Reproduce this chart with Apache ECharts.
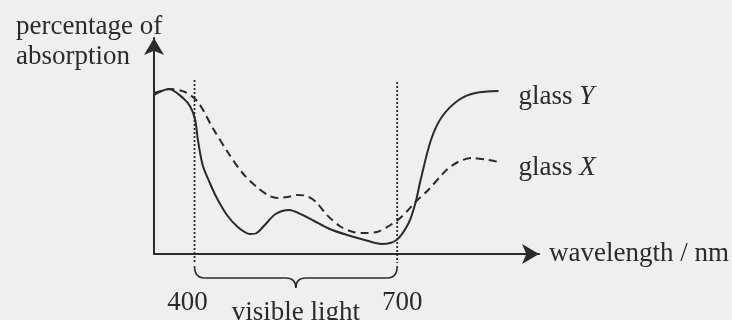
<!DOCTYPE html>
<html>
<head>
<meta charset="utf-8">
<script src="https://cdn.jsdelivr.net/npm/echarts@6/dist/echarts.min.js"></script>
<style>html,body{margin:0;padding:0;background:#efefef}#c{width:732px;height:320px}</style>
</head>
<body>
<div id="c"></div>
<script>
// wavelength (nm) and percentage of absorption
const wavelengthY = [340, 362, 383, 394, 401, 405, 412, 422, 433, 448, 464, 482, 492, 504, 520, 540, 560, 577, 600, 626, 652, 677, 699, 717, 727, 735, 750, 766, 791, 816, 850];
const absorptionY = [79.5, 82.5, 78, 73.5, 67, 57, 44.5, 36, 28, 19.5, 13.5, 10, 10.5, 14.5, 20, 22, 19.5, 16.5, 12.5, 9.5, 7, 5, 7, 15.5, 25.5, 37.5, 57, 68.5, 77, 80.5, 81.5];
const wavelengthX = [340, 364, 386, 405, 427, 449, 471, 492, 511, 523, 538, 552, 566, 580, 596, 617, 635, 651, 670, 690, 701, 715, 727, 746, 773, 790, 810, 835, 850];
const absorptionX = [80.5, 82.5, 81, 76, 63, 51, 40.5, 33.5, 29, 28, 28.5, 29.5, 29, 26, 19.5, 13.5, 11, 10.5, 11, 14.5, 17, 21.5, 26, 32, 42, 46, 48, 47, 46];
const xTickLabels = [400, 700];
const visibleRange = [400, 700];
const boundaryTop = [87, 86];
const boundaryBottom = -4.5;
const seriesNames = ['glass Y', 'glass X'];

const INK = '#2b2b2b';
const FONT = "'Liberation Serif', 'DejaVu Serif', serif";
const FS = 27;

const zip = (a, b) => a.map((v, i) => [v, b[i]]);

const chart = echarts.init(document.getElementById('c'));
const option = {
  backgroundColor: '#efefef',
  animation: false,
  textStyle: { fontFamily: FONT, color: INK },
  title: {
    text: 'percentage of\nabsorption',
    left: 16, top: 12, padding: 0,
    textStyle: { fontFamily: FONT, fontSize: FS, fontWeight: 'normal', color: INK, lineHeight: 30 }
  },
  grid: { left: 154, right: 191, top: 38, bottom: 66 },
  xAxis: {
    type: 'value', min: 340, max: 910,
    splitLine: { show: false },
    axisLine: { show: true, lineStyle: { color: INK, width: 2 }, symbol: ['none', 'arrow'], symbolSize: [15, 17] },
    axisTick: { show: false },
    axisLabel: {
      show: true, customValues: xTickLabels, margin: 35, verticalAlign: 'top',
      fontFamily: FONT, fontSize: FS, color: INK,
      formatter: v => v === 400 ? '{a|' + v + '}' : '{b|' + v + '}',
      rich: {
        a: { fontFamily: FONT, fontSize: FS, color: INK, padding: [0, 14, 0, 0] },
        b: { fontFamily: FONT, fontSize: FS, color: INK, padding: [0, 0, 0, 10] }
      }
    },
    name: 'wavelength / nm', nameLocation: 'end', nameGap: 10,
    nameTextStyle: { fontFamily: FONT, fontSize: FS, color: INK, verticalAlign: 'middle', padding: [28, 0, 0, 0] }
  },
  yAxis: {
    type: 'value', min: 0, max: 108,
    splitLine: { show: false },
    axisLine: { show: true, onZero: false, lineStyle: { color: INK, width: 2 }, symbol: ['none', 'arrow'], symbolSize: [15, 17] },
    axisTick: { show: false },
    axisLabel: { show: false }
  },
  series: [
    {
      name: seriesNames[0], type: 'line', data: zip(wavelengthY, absorptionY),
      smooth: 0.3, showSymbol: false, symbol: 'none',
      lineStyle: { color: INK, width: 2 },
      endLabel: {
        show: true, distance: 20, offset: [0, 6],
        formatter: 'glass {i|Y}', fontFamily: FONT, fontSize: FS, color: INK,
        rich: { i: { fontFamily: FONT, fontSize: FS, fontStyle: 'italic', color: INK } }
      }
    },
    {
      name: seriesNames[1], type: 'line', data: zip(wavelengthX, absorptionX),
      smooth: 0.3, showSymbol: false, symbol: 'none',
      lineStyle: { color: INK, width: 2, type: [8, 5] },
      endLabel: {
        show: true, distance: 20, offset: [0, 6],
        formatter: 'glass {i|X}', fontFamily: FONT, fontSize: FS, color: INK,
        rich: { i: { fontFamily: FONT, fontSize: FS, fontStyle: 'italic', color: INK } }
      }
    },
    ...visibleRange.map((w, i) => ({
      type: 'line', data: [[w, boundaryTop[i]], [w, boundaryBottom]],
      showSymbol: false, symbol: 'none', clip: false, silent: true,
      lineStyle: { color: INK, width: 1.8, type: [2, 2] }
    }))
  ]
};
chart.setOption(option);

function drawBrace() {
  const p1 = chart.convertToPixel({ gridIndex: 0 }, [visibleRange[0], 0]);
  const p2 = chart.convertToPixel({ gridIndex: 0 }, [visibleRange[1], 0]);
  const y0 = p1[1];
  const yEnd = y0 + 12, yh = y0 + 24, yTip = y0 + 34;
  const x1 = p1[0], x2 = p2[0], xm = (x1 + x2) / 2, r = 10;
  const st = { stroke: INK, lineWidth: 1.6, fill: null };
  const curve = (a, b, c) => ({ type: 'bezierCurve', silent: true, style: st,
    shape: { x1: a[0], y1: a[1], cpx1: b[0], cpy1: b[1], x2: c[0], y2: c[1] } });
  const line = (a, b) => ({ type: 'line', silent: true, style: st,
    shape: { x1: a[0], y1: a[1], x2: b[0], y2: b[1] } });
  chart.setOption({
    graphic: [
      curve([x1, yEnd], [x1, yh], [x1 + r, yh]),
      line([x1 + r, yh], [xm - r, yh]),
      curve([xm - r, yh], [xm, yh], [xm, yTip]),
      curve([xm, yTip], [xm, yh], [xm + r, yh]),
      line([xm + r, yh], [x2 - r, yh]),
      curve([x2 - r, yh], [x2, yh], [x2, yEnd]),
      { type: 'text', silent: true, x: xm, y: y0 + 45,
        style: { text: 'visible light', font: FS + 'px ' + FONT, fill: INK, align: 'center', verticalAlign: 'top' } }
    ]
  });
}
drawBrace();
</script>
</body>
</html>
